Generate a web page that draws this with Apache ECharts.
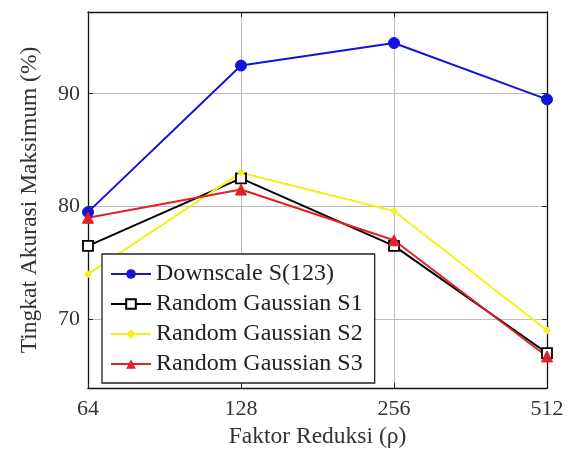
<!DOCTYPE html>
<html>
<head>
<meta charset="utf-8">
<script src="https://cdn.jsdelivr.net/npm/echarts@6/dist/echarts.min.js"></script>
<style>html,body{margin:0;padding:0;background:#fff}#c{width:570px;height:454px}</style>
</head>
<body>
<div id="c"></div>
<script>
const categories = ['64', '128', '256', '512'];
const downscale = [79.5, 92.5, 94.5, 89.5];
const gaussS1 = [76.5, 82.5, 76.5, 67.0];
const gaussS2 = [74.0, 83.0, 79.6, 69.0];
const gaussS3 = [79.0, 81.5, 77.0, 66.7];
const yTicks = [70, 80, 90];

const font = 'Liberation Serif';
const chart = echarts.init(document.getElementById('c'));
const frameLine = { show: true, lineStyle: { color: '#111', width: 1.3 } };
const inTick = { show: true, inside: true, length: 5, lineStyle: { color: '#222', width: 1 } };
function mk(name, data, color, symbol, size, extra) {
  return Object.assign({
    name: name, type: 'line', data: data, xAxisIndex: 0, yAxisIndex: 0,
    symbol: symbol, symbolSize: size, showSymbol: true,
    lineStyle: { color: color, width: 2 },
    itemStyle: { color: color, borderColor: color },
    z: 3
  }, extra || {});
}
chart.setOption({
  animation: false,
  textStyle: { fontFamily: font },
  grid: { left: 88, right: 23, top: 12, bottom: 63 },
  legend: {
    orient: 'vertical', left: 102, top: 254,
    padding: [8, 12, 7, 8],
    itemWidth: 40, itemHeight: 12, itemGap: 6,
    backgroundColor: '#fff', borderColor: '#222', borderWidth: 1.3, borderRadius: 0,
    textStyle: { fontFamily: font, fontSize: 24, color: '#222', lineHeight: 22 },
    data: ['Downscale S(123)', 'Random Gaussian S1', 'Random Gaussian S2', 'Random Gaussian S3'],
    z: 10
  },
  xAxis: [
    {
      type: 'category', data: categories, boundaryGap: false, position: 'bottom',
      axisLine: frameLine, axisTick: inTick,
      axisLabel: { fontFamily: font, fontSize: 22, color: '#333', margin: 10 },
      splitLine: { show: true, lineStyle: { color: '#bdbdbd', width: 1 } },
      name: 'Faktor Reduksi (ρ)', nameLocation: 'middle', nameGap: 37,
      nameTextStyle: { fontFamily: font, fontSize: 23.5, color: '#333' }
    },
    {
      type: 'category', data: categories, boundaryGap: false, position: 'top',
      axisLine: frameLine, axisTick: inTick, axisLabel: { show: false }, splitLine: { show: false }
    }
  ],
  yAxis: [
    {
      type: 'value', min: 63.9, max: 97.25, splitNumber: 3, position: 'left',
      axisLine: frameLine, axisTick: Object.assign({}, inTick, { customValues: yTicks }),
      axisLabel: { fontFamily: font, fontSize: 22, color: '#333', margin: 8, customValues: yTicks },
      splitLine: { show: true, lineStyle: { color: '#bdbdbd', width: 1 } },
      name: 'Tingkat Akurasi Maksimum (%)', nameLocation: 'middle', nameGap: 46,
      nameTextStyle: { fontFamily: font, fontSize: 23.5, color: '#333' }
    },
    {
      type: 'value', min: 63.9, max: 97.25, splitNumber: 3, position: 'right',
      axisLine: frameLine, axisTick: Object.assign({}, inTick, { customValues: yTicks }),
      axisLabel: { show: false }, splitLine: { show: false }
    }
  ],
  series: [
    mk('Downscale S(123)', downscale, '#1414d8', 'circle', 11),
    mk('Random Gaussian S1', gaussS1, '#000000', 'rect', 10, {
      itemStyle: { color: '#fff', borderColor: '#000', borderWidth: 1.8 }
    }),
    mk('Random Gaussian S2', gaussS2, '#f2f21a', 'diamond', 7),
    mk('Random Gaussian S3', gaussS3, '#e0202a', 'triangle', 11)
  ]
});
</script>
</body>
</html>
